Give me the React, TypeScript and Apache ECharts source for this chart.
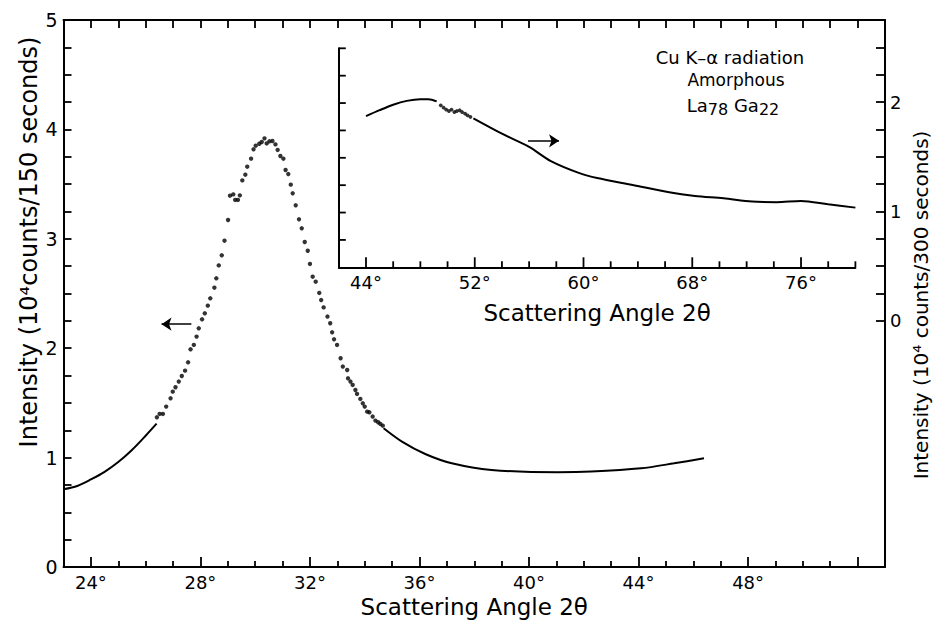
import React, { useEffect, useRef } from "react";
import * as echarts from "echarts";

// ---- Data ----
// Main pattern, left axis (10^4 counts / 150 s)
const mainLeftLineAngle = [23.0, 23.5, 24.0, 24.5, 25.0, 25.5, 26.0, 26.4];
const mainLeftLineCounts = [0.71, 0.74, 0.8, 0.87, 0.96, 1.07, 1.2, 1.31];

const peakAngles = [
  26.41, 26.51, 26.63, 26.75, 26.91, 26.99, 27.09, 27.21, 27.32, 27.44, 27.55, 27.64, 27.76, 27.86, 27.94,
  28.06, 28.16, 28.27, 28.36, 28.51, 28.58, 28.67, 28.78, 28.88, 29.01, 29.08, 29.2, 29.27, 29.37, 29.44,
  29.53, 29.64, 29.71, 29.85, 29.94, 30.02, 30.15, 30.24, 30.34, 30.42, 30.52, 30.63, 30.74, 30.82, 30.92,
  31.03, 31.11, 31.21, 31.3, 31.37, 31.48, 31.6, 31.7, 31.81, 31.92, 32.0, 32.1, 32.21, 32.34, 32.41,
  32.5, 32.64, 32.74, 32.81, 32.88, 32.99, 33.12, 33.2, 33.36, 33.39, 33.48, 33.56, 33.66, 33.72, 33.84,
  33.93, 34.0, 34.09, 34.17, 34.29, 34.39, 34.49, 34.57, 34.66,
];
const peakCounts = [
  1.368, 1.399, 1.399, 1.466, 1.542, 1.603, 1.643, 1.695, 1.746, 1.795, 1.871, 1.99, 2.03, 2.106, 2.182,
  2.264, 2.319, 2.389, 2.456, 2.553, 2.639, 2.757, 2.849, 2.983, 3.172, 3.394, 3.406, 3.355, 3.355, 3.397,
  3.534, 3.586, 3.659, 3.732, 3.818, 3.851, 3.869, 3.885, 3.918, 3.872, 3.891, 3.894, 3.863, 3.812, 3.757,
  3.732, 3.629, 3.592, 3.495, 3.416, 3.306, 3.178, 3.096, 2.971, 2.891, 2.77, 2.654, 2.608, 2.505, 2.44,
  2.373, 2.289, 2.228, 2.145, 2.081, 2.03, 1.908, 1.832, 1.801, 1.725, 1.695, 1.664, 1.618, 1.582, 1.536,
  1.496, 1.466, 1.42, 1.414, 1.375, 1.338, 1.323, 1.308, 1.292,
];

const mainRightLineAngle = [34.69, 35.36, 36.21, 37.18, 38.63, 41.05, 42.27, 44.09, 45.3, 46.39];
const mainRightLineCounts = [1.268, 1.146, 1.033, 0.948, 0.887, 0.866, 0.872, 0.902, 0.948, 0.994];

// Inset pattern, right axis (10^4 counts / 300 s)
const insetLeftAngle = [44.0, 45.0, 46.0, 47.0, 48.0, 48.6, 49.2];
const insetLeftCounts = [1.88, 1.935, 1.985, 2.02, 2.035, 2.035, 2.015];
const insetDotAngles = [49.5, 49.71, 49.9, 50.1, 50.29, 50.5, 50.68, 50.89, 51.07, 51.29, 51.47, 51.68];
const insetDotCounts = [1.979, 1.958, 1.94, 1.927, 1.94, 1.918, 1.927, 1.934, 1.918, 1.903, 1.888, 1.873];
const insetRightAngle = [51.9, 54, 56, 57.6, 59.7, 61, 63.7, 66.3, 68.2, 70.3, 72.4, 74.2, 76, 78, 80];
const insetRightCounts = [1.86, 1.72, 1.6, 1.47, 1.36, 1.315, 1.25, 1.185, 1.152, 1.13, 1.1, 1.095, 1.106, 1.075, 1.045];

// Tick labels / tick positions
const mainAngleLabels = [24, 28, 32, 36, 40, 44, 48];
const mainAngleMajorTicks = [24, 28, 32, 36, 40, 44, 48, 52];
const leftIntensityLabels = [0, 1, 2, 3, 4, 5];
const rightIntensityLabels = [0, 1, 2];
const insetAngleLabels = [44, 52, 60, 68, 76];

// Arrows (data units)
const leftArrowFrom = [27.67, 2.22];
const leftArrowTo = [26.58, 2.22];
const rightArrowFrom = [55.92, 1.655];
const rightArrowTo = [58.2, 1.655];

const zip = (xs: number[], ys: number[]) => xs.map((x, i) => [x, ys[i]]);
const range = (a: number, b: number, step: number) => {
  const out: number[] = [];
  for (let v = a; v <= b + 1e-9; v += step) out.push(Math.round(v * 1000) / 1000);
  return out;
};

const FONT = "DejaVu Sans";
const INK = "#000";
const TICK_W = 1.8;

// custom series drawing inset ticks through the inset axes' scales
function tickSeries(xAxisIndex: number, yAxisIndex: number, points: number[][], dir: number[], len: number) {
  return {
    type: "custom",
    xAxisIndex,
    yAxisIndex,
    clip: false,
    silent: true,
    data: points,
    renderItem: (_params: any, api: any) => {
      const p = api.coord([api.value(0), api.value(1)]);
      return {
        type: "line",
        shape: { x1: p[0], y1: p[1], x2: p[0] + dir[0] * len, y2: p[1] + dir[1] * len },
        style: { stroke: INK, lineWidth: TICK_W },
      };
    },
  };
}

export default function App() {
  const ref = useRef<HTMLDivElement>(null);

  useEffect(() => {
    if (!ref.current) return;
    const chart = echarts.init(ref.current, undefined, { renderer: "svg" });

    const mainMinor = range(24, 52, 1).filter((v) => !mainAngleMajorTicks.includes(v));
    const insetMinor = range(44, 80, 2).filter((v) => !insetAngleLabels.includes(v));
    const tickLine = { color: INK, width: TICK_W };

    const axisLine = { show: true, onZero: false, lineStyle: { color: INK, width: 2 } };
    const deg = (v: number) => `${v}°`;

    const option: any = {
      animation: false,
      backgroundColor: "#fff",
      grid: [
        { left: 63.5, top: 20, width: 821.5, height: 547 },
        { left: 338.8, top: 48.3, width: 516.6, height: 219 },
      ],
      xAxis: [
        {
          gridIndex: 0, type: "value", min: 23, max: 53, position: "bottom",
          axisLine, splitLine: { show: false },
          axisTick: { show: true, inside: true, length: 10, customValues: mainAngleMajorTicks, lineStyle: tickLine },
          axisLabel: { customValues: mainAngleLabels, formatter: deg, margin: 6, fontSize: 18, color: INK, fontFamily: FONT },
          name: "Scattering Angle 2θ", nameLocation: "middle", nameGap: 28,
          nameTextStyle: { fontSize: 23, color: INK, fontFamily: FONT },
        },
        {
          gridIndex: 0, type: "value", min: 23, max: 53, position: "bottom",
          axisLine: { show: false, onZero: false }, splitLine: { show: false },
          axisTick: { show: true, inside: true, length: 6, customValues: mainMinor, lineStyle: tickLine },
          axisLabel: { show: false },
        },
        {
          gridIndex: 0, type: "value", min: 23, max: 53, interval: 1, position: "top",
          axisLine, splitLine: { show: false },
          axisTick: { show: true, inside: true, length: 8, lineStyle: tickLine },
          axisLabel: { show: false },
        },
        {
          gridIndex: 1, type: "value", min: 42, max: 80, position: "bottom",
          axisLine, splitLine: { show: false }, axisTick: { show: false },
          axisLabel: { customValues: insetAngleLabels, formatter: deg, margin: 6, fontSize: 18, color: INK, fontFamily: FONT },
          name: "Scattering Angle 2θ", nameLocation: "middle", nameGap: 34,
          nameTextStyle: { fontSize: 23, color: INK, fontFamily: FONT },
        },
      ],
      yAxis: [
        {
          gridIndex: 0, type: "value", min: 0, max: 5, position: "left",
          axisLine, splitLine: { show: false },
          axisTick: { show: true, inside: true, length: 8, customValues: range(0, 5, 0.25), lineStyle: tickLine },
          axisLabel: { customValues: leftIntensityLabels, margin: 6, fontSize: 19, color: INK, fontFamily: FONT },
        },
        {
          gridIndex: 0, type: "value", min: -2.25, max: 2.75, position: "right",
          axisLine, splitLine: { show: false },
          axisTick: { show: true, inside: true, length: 9, customValues: range(0, 2.75, 0.25), lineStyle: tickLine },
          axisLabel: { customValues: rightIntensityLabels, margin: 5, fontSize: 18, color: INK, fontFamily: FONT },
        },
        {
          gridIndex: 1, type: "value", min: 0.5, max: 2.5, position: "left",
          axisLine, splitLine: { show: false }, axisTick: { show: false }, axisLabel: { show: false },
        },
      ],
      series: [
        {
          type: "line", xAxisIndex: 0, yAxisIndex: 0, data: zip(mainLeftLineAngle, mainLeftLineCounts),
          smooth: 0.3, showSymbol: false, lineStyle: { color: INK, width: 2 }, silent: true,
          markLine: {
            silent: true, symbol: ["none", "arrow"], symbolSize: 10, label: { show: false },
            lineStyle: { color: INK, width: 1.5, type: "solid" },
            data: [[{ coord: leftArrowFrom }, { coord: leftArrowTo }]],
          },
        },
        {
          type: "scatter", xAxisIndex: 0, yAxisIndex: 0, data: zip(peakAngles, peakCounts),
          symbolSize: 4.4, itemStyle: { color: INK }, silent: true,
        },
        {
          type: "line", xAxisIndex: 0, yAxisIndex: 0, data: zip(mainRightLineAngle, mainRightLineCounts),
          smooth: 0.3, showSymbol: false, lineStyle: { color: INK, width: 2 }, silent: true,
        },
        {
          type: "line", xAxisIndex: 3, yAxisIndex: 2, data: zip(insetLeftAngle, insetLeftCounts),
          smooth: 0.3, showSymbol: false, lineStyle: { color: INK, width: 2 }, silent: true,
          markLine: {
            silent: true, symbol: ["none", "arrow"], symbolSize: 10, label: { show: false },
            lineStyle: { color: INK, width: 1.5, type: "solid" },
            data: [[{ coord: rightArrowFrom }, { coord: rightArrowTo }]],
          },
        },
        {
          type: "scatter", xAxisIndex: 3, yAxisIndex: 2, data: zip(insetDotAngles, insetDotCounts),
          symbolSize: 3.8, itemStyle: { color: INK }, silent: true,
        },
        {
          type: "line", xAxisIndex: 3, yAxisIndex: 2, data: zip(insetRightAngle, insetRightCounts),
          smooth: 0.3, showSymbol: false, lineStyle: { color: INK, width: 2 }, silent: true,
        },
        tickSeries(3, 2, insetAngleLabels.map((v) => [v, 0.5]), [0, -1], 10),
        tickSeries(3, 2, insetMinor.map((v) => [v, 0.5]), [0, -1], 6),
        tickSeries(3, 2, range(0.75, 2.5, 0.25).map((v) => [42, v]), [1, 0], 7),
      ],
      graphic: [
        {
          type: "text", x: 29, y: 242, rotation: Math.PI / 2,
          style: { text: "Intensity (10⁴counts/150 seconds)", fontSize: 24, fontFamily: FONT, fill: INK, align: "center", verticalAlign: "middle" },
        },
        {
          type: "text", x: 921, y: 305, rotation: Math.PI / 2,
          style: { text: "Intensity (10⁴ counts/300 seconds)", fontSize: 20, fontFamily: FONT, fill: INK, align: "center", verticalAlign: "middle" },
        },
        {
          type: "text", x: 730, y: 57,
          style: { text: "Cu K–α radiation", fontSize: 18, fontFamily: FONT, fill: INK, align: "center", verticalAlign: "middle" },
        },
        {
          type: "text", x: 736, y: 80,
          style: { text: "Amorphous", fontSize: 17, fontFamily: FONT, fill: INK, align: "center", verticalAlign: "middle" },
        },
        {
          type: "text", x: 733, y: 105,
          style: {
            text: "La{sub|78} Ga{sub|22}", fontSize: 18, fontFamily: FONT, fill: INK, align: "center", verticalAlign: "middle",
            rich: { sub: { fontSize: 16, fontFamily: FONT, fill: INK, padding: [8, 0, 0, 0] } },
          },
        },
      ],
    };

    chart.setOption(option);
    return () => chart.dispose();
  }, []);

  return <div ref={ref} style={{ position: "fixed", left: 0, top: 0, width: 937, height: 624, background: "#fff" }} />;
}
